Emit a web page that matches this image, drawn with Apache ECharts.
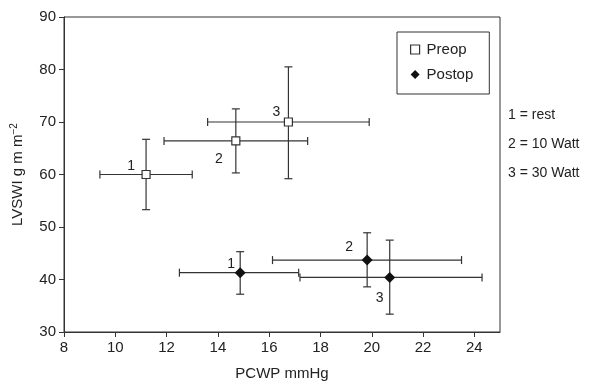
<html>
<head>
<meta charset="utf8">
<script src="https://cdn.jsdelivr.net/npm/echarts@6/dist/echarts.min.js" type="text/javascript"></script>
<title></title>
<style>body{margin:0;background:#fff;}</style>
</head>
<body>
<div id="echarts-main" style="height:384px;width:594px;"></div>
<script type="text/javascript">
	// stage labels: 1 = rest, 2 = 10 Watt, 3 = 30 Watt
	var stages = ['1', '2', '3'];
	var notes = ['1 = rest', '2 = 10 Watt', '3 = 30 Watt'];

	// PCWP (x) mean, low, high
	var preopX = [11.2, 14.7, 16.75];
	var preopXlo = [9.4, 11.9, 13.6];
	var preopXhi = [13.0, 17.5, 19.9];
	// LVSWI (y) mean, low, high
	var preopY = [60.0, 66.4, 70.0];
	var preopYlo = [53.3, 60.3, 59.2];
	var preopYhi = [66.7, 72.5, 80.5];

	var postopX = [14.87, 19.82, 20.7];
	var postopXlo = [12.5, 16.13, 17.2];
	var postopXhi = [17.15, 23.5, 24.3];
	var postopY = [41.3, 43.7, 40.4];
	var postopYlo = [37.2, 38.6, 33.4];
	var postopYhi = [45.3, 48.9, 47.5];

	var xTicks = [8, 25, 2];
	var yTicks = [30, 90, 10];

	// where each number sits next to its marker (pixels)
	var preopLabelOffset = [[-15, -8], [-17, 18], [-12, -10]];
	var postopLabelOffset = [[-9, -9], [-18, -13], [-10, 21]];

	var ink = '#333';
	var font = 'Liberation Sans, Arial, sans-serif';

	function rows(xs, ys, xlo, xhi, ylo, yhi) {
		var out = [];
		for (var i = 0; i < xs.length; i++) {
			out.push([xs[i], ys[i], xlo[i], xhi[i], ylo[i], yhi[i]]);
		}
		return out;
	}

	function points(xs, ys, offsets) {
		var out = [];
		for (var i = 0; i < xs.length; i++) {
			out.push({
				value: [xs[i], ys[i]],
				name: stages[i],
				label: { offset: offsets[i] }
			});
		}
		return out;
	}

	function errorBars(params, api) {
		var c = api.coord([api.value(0), api.value(1)]);
		var l = api.coord([api.value(2), api.value(1)]);
		var r = api.coord([api.value(3), api.value(1)]);
		var b = api.coord([api.value(0), api.value(4)]);
		var t = api.coord([api.value(0), api.value(5)]);
		var cap = 4;
		var st = { stroke: ink, lineWidth: 1.2 };
		var seg = function (x1, y1, x2, y2) {
			return { type: 'line', shape: { x1: x1, y1: y1, x2: x2, y2: y2 }, style: st };
		};
		return {
			type: 'group',
			children: [
				seg(l[0], c[1], r[0], c[1]),
				seg(l[0], c[1] - cap, l[0], c[1] + cap),
				seg(r[0], c[1] - cap, r[0], c[1] + cap),
				seg(c[0], t[1], c[0], b[1]),
				seg(c[0] - cap, t[1], c[0] + cap, t[1]),
				seg(c[0] - cap, b[1], c[0] + cap, b[1])
			]
		};
	}

	var pointLabel = {
		show: true,
		position: 'inside',
		formatter: '{b}',
		color: '#222',
		fontSize: 14,
		fontFamily: font
	};

	var diamond = 'path://M0,-1L1,0L0,1L-1,0Z';

	var myChart = echarts.init(document.getElementById('echarts-main'));
	var option = {
		animation: false,
		textStyle: { fontFamily: font },
		grid: {
			left: 64, right: 94, top: 17, bottom: 52,
			outerBoundsMode: 'none', containLabel: false,
			show: true, borderColor: ink, borderWidth: 1, backgroundColor: 'transparent'
		},
		legend: {
			orient: 'vertical',
			left: 397, top: 32,
			width: 92,
			padding: [10, 16, 12, 13],
			itemGap: 10,
			itemWidth: 9, itemHeight: 9,
			borderColor: ink, borderWidth: 1,
			textStyle: { fontSize: 15, color: '#222', fontFamily: font, padding: [0, 0, 0, 2] },
			data: [
				{ name: 'Preop', icon: 'path://M-1,-1L1,-1L1,1L-1,1Z', itemStyle: { color: '#fff', borderColor: ink, borderWidth: 1.2 } },
				{ name: 'Postop', icon: diamond, itemStyle: { color: '#111' } }
			]
		},
		xAxis: {
			type: 'value',
			min: xTicks[0], max: xTicks[1], interval: xTicks[2],
			name: 'PCWP mmHg',
			nameLocation: 'middle',
			nameGap: 34,
			nameTextStyle: { fontSize: 15, color: '#222' },
			axisLine: { lineStyle: { color: ink } },
			axisTick: { length: 5, lineStyle: { color: ink } },
			axisLabel: { fontSize: 15, color: '#222', margin: 8, showMaxLabel: false },
			splitLine: { show: false }
		},
		yAxis: {
			type: 'value',
			min: yTicks[0], max: yTicks[1], interval: yTicks[2],
			name: 'LVSWI g m m{sup|\u22122}',
			nameLocation: 'middle',
			nameGap: 37,
			nameTextStyle: {
				fontSize: 15, color: '#222',
				rich: { sup: { fontSize: 10, color: '#222', verticalAlign: 'top', padding: [0, 0, 8, 0] } }
			},
			axisLine: { lineStyle: { color: ink } },
			axisTick: { length: 5, lineStyle: { color: ink } },
			axisLabel: { fontSize: 15, color: '#222', margin: 8 },
			splitLine: { show: false }
		},
		graphic: notes.map(function (t, i) {
			return {
				type: 'text', left: 508, top: 108 + i * 29,
				style: { text: t, fontSize: 14, fill: '#222', fontFamily: font }
			};
		}),
		series: [
			{
				type: 'custom', name: 'preopErr', renderItem: errorBars,
				data: rows(preopX, preopY, preopXlo, preopXhi, preopYlo, preopYhi), z: 2
			},
			{
				type: 'custom', name: 'postopErr', renderItem: errorBars,
				data: rows(postopX, postopY, postopXlo, postopXhi, postopYlo, postopYhi), z: 2
			},
			{
				type: 'scatter', name: 'Preop', symbol: 'rect', symbolSize: 8, z: 5,
				itemStyle: { color: '#fff', borderColor: ink, borderWidth: 1.2, opacity: 1 },
				label: pointLabel,
				data: points(preopX, preopY, preopLabelOffset)
			},
			{
				type: 'scatter', name: 'Postop', symbol: diamond, symbolSize: 11, z: 5,
				itemStyle: { color: '#111', opacity: 1 },
				label: pointLabel,
				data: points(postopX, postopY, postopLabelOffset)
			}
		]
	};
	myChart.setOption(option);
</script>
</body>
</html>
